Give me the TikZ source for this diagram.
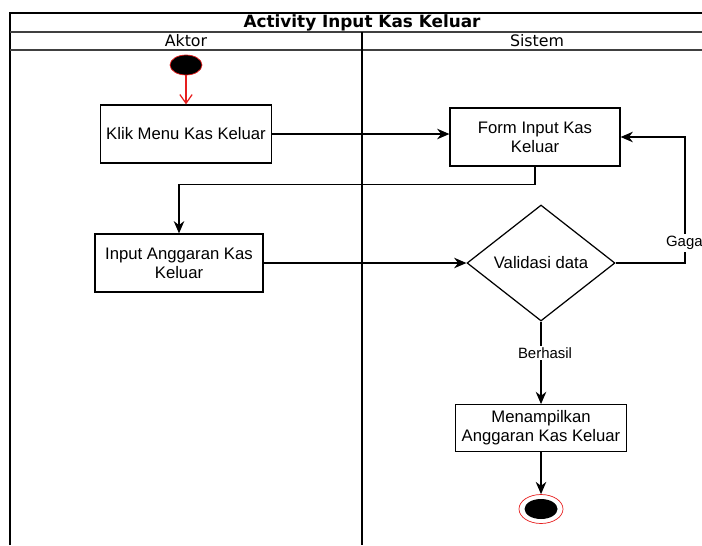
\documentclass[tikz,border=0pt]{standalone}
\usepackage{fontspec}
\setmainfont{Liberation Sans}
\newfontfamily\headfont{DejaVu Sans}
\usepackage{tikz}
\usetikzlibrary{arrows.meta,positioning,shapes.geometric,calc}
\definecolor{startred}{RGB}{230,30,30}

\begin{document}
\begin{tikzpicture}[x=0.02cm,y=-0.02cm,
    lane/.style={line width=1pt},
    actbox/.style={draw,line width=0.7pt,minimum width=3.36cm,minimum height=1.16cm,align=center,font=\fontsize{9.5}{11}\selectfont},
    flow/.style={draw,line width=0.7pt,-{Stealth[length=7pt,width=6pt]}},
    lbl/.style={fill=white,inner sep=1pt,font=\fontsize{8.5}{10}\selectfont}]
  \useasboundingbox (0,0) rectangle (702,545);

  % swimlane frame
  \draw[lane] (10,545) -- (10,13) -- (710,13);
  \draw[lane,draw=black!75] (10,32) -- (710,32);
  \draw[lane,draw=black!75] (10,50) -- (710,50);
  \draw[lane] (362,32) -- (362,545);
  \node (title) at (362,22.5) {\headfont\bfseries\fontsize{9.6}{11}\selectfont Activity Input Kas Keluar};
  \node (aktor) at (186,41) {\headfont\fontsize{9}{11}\selectfont Aktor};
  \node (sistem) at (537,41) {\headfont\fontsize{9}{11}\selectfont Sistem};

  % aktor
  \node[ellipse,draw=startred,fill=black,minimum width=0.64cm,minimum height=0.4cm,inner sep=0pt] (start) at (186,65) {};
  \node[actbox] (klik) at (186,134) {Klik Menu Kas Keluar};
  \node[actbox] (input) at (179,263) {Input Anggaran Kas\\Keluar};

  % sistem
  \node[actbox,minimum width=3.4cm] (form) at (535,137) {Form Input Kas\\Keluar};
  \node[diamond,draw,line width=0.7pt,minimum width=2.96cm,minimum height=2.32cm,inner sep=0pt,aspect=1.28,font=\fontsize{9.5}{11}\selectfont] (valid) at (541,263) {Validasi data};
  \node[actbox,minimum height=0.78cm] (tampil) at (541,428) {Menampilkan\\Anggaran Kas Keluar};
  \node[ellipse,draw=startred,minimum width=0.88cm,minimum height=0.58cm,inner sep=0pt] (stop) at (541,509) {};
  \node[ellipse,fill=black,minimum width=0.66cm,minimum height=0.4cm,inner sep=0pt] (stopdot) at (stop.center) {};

  % connectors
  \draw[startred,line width=0.7pt,-{Straight Barb[length=5pt,width=7pt]}] (start) -- (klik);
  \draw[flow] (klik) -- (form.west |- klik.east);
  \draw[flow] (form.south) -- ++(0,18) -| (input.north);
  \draw[flow] (input.east) -- (valid.west);
  \coordinate (gagalpt) at (685,263);
  \draw[flow] (valid.east) -- (gagalpt) |- (form.east);
  \node[lbl] (gagal) at (686,243) {Gagal};
  \draw[flow] (valid.south) -- (tampil.north);
  \node[lbl] (berhasil) at (545,353) {Berhasil};
  \draw[flow] (tampil.south) -- (stop.north);
\end{tikzpicture}
\end{document}
